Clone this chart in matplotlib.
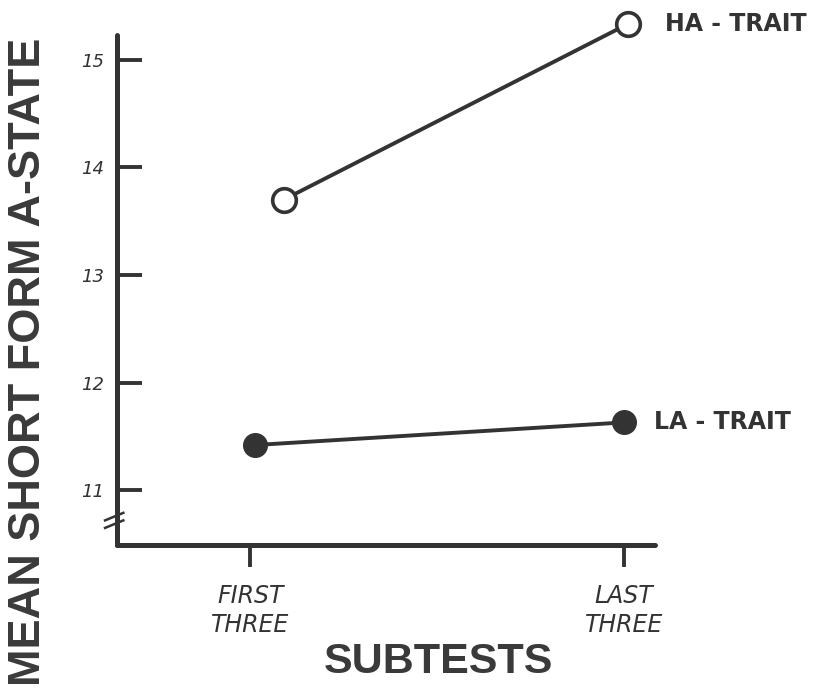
import matplotlib
matplotlib.use("Agg")
import matplotlib.pyplot as plt
import matplotlib.transforms as mtransforms

categories = ["FIRST\nTHREE", "LAST\nTHREE"]
cat_pos = [0, 1]
ha_x = [0.09, 1.01]
ha_vals = [13.70, 15.33]
la_x = [0.013, 1.0]
la_vals = [11.42, 11.63]
yticks = [11, 12, 13, 14, 15]
ytick_labels = ["11", "12", "13", "14", "15"]

ink = "#333333"
sans = ["Liberation Sans", "DejaVu Sans"]
fig = plt.figure(figsize=(8.29, 6.98), dpi=100)
ax = fig.add_axes([0.141, 0.219, 0.649, 0.731])
ax.set_xlim(-0.357, 1.083)
ax.set_ylim(10.49, 15.23)

for s in ["top", "right"]:
    ax.spines[s].set_visible(False)
for s in ["left", "bottom"]:
    ax.spines[s].set_linewidth(3.6)
    ax.spines[s].set_color(ink)
    ax.spines[s].set_capstyle("round")

ax.set_yticks(yticks)
ax.set_yticklabels(ytick_labels, fontsize=13, style="italic", color=ink)
ax.tick_params(axis="y", direction="in", length=18, width=2.8, color=ink, pad=9)
ax.set_xticks(cat_pos)
ax.set_xticklabels(categories, fontsize=17, style="italic", color=ink, linespacing=1.25)
ax.tick_params(axis="x", direction="out", length=16, width=2.8, color=ink, pad=12)

ax.plot(ha_x, ha_vals, color=ink, lw=2.8, marker="o", ms=17, mfc="white",
        mec=ink, mew=2.6, clip_on=False, zorder=3)
ax.plot(la_x, la_vals, color=ink, lw=2.8, marker="o", ms=17, mfc=ink,
        mec=ink, clip_on=False, zorder=3)

ax.annotate("HA - TRAIT", (ha_x[1], ha_vals[1]), xytext=(27, 0),
            textcoords="offset points", va="center", ha="left",
            fontsize=17, fontweight="bold", color=ink, annotation_clip=False)
ax.annotate("LA - TRAIT", (la_x[1], la_vals[1]), xytext=(22, 0),
            textcoords="offset points", va="center", ha="left",
            fontsize=17, fontweight="bold", color=ink, annotation_clip=False)

# axis break marks across the y spine
trans = mtransforms.blended_transform_factory(ax.transAxes, ax.transData)
for y0 in (10.65, 10.72):
    ax.plot([-0.022, 0.012], [y0, y0 + 0.07], transform=trans, color=ink,
            lw=1.8, clip_on=False)

ax.set_ylabel("MEAN SHORT FORM A-STATE", fontsize=32.5, color="#3a3a3a",
              family=sans, fontweight="bold")
ax.yaxis.set_label_coords(-0.126, 0.36)
ax.set_xlabel("SUBTESTS", fontsize=31, color="#3a3a3a", family=sans,
              fontweight="bold")
ax.xaxis.set_label_coords(0.597, -0.19)

fig.savefig("out.png", dpi=100)
